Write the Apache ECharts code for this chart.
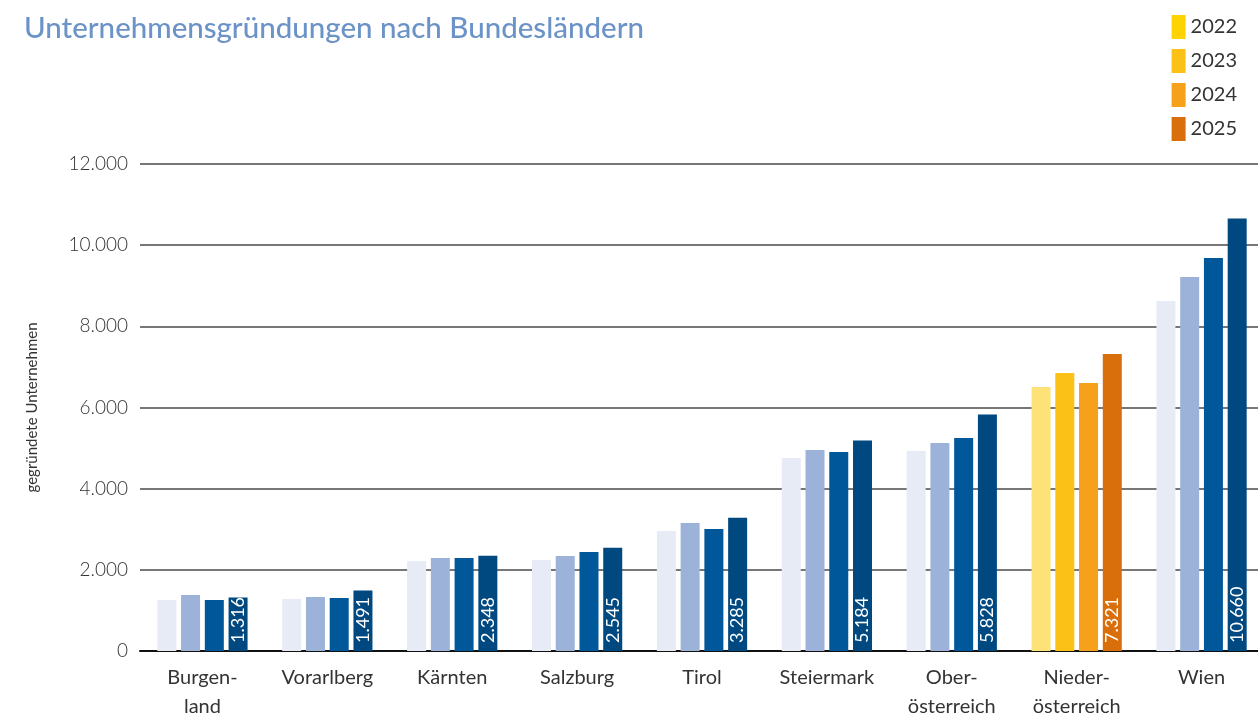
<!DOCTYPE html>
<html>
<head>
<meta charset="utf-8">
<script src="https://cdn.jsdelivr.net/npm/echarts@6/dist/echarts.min.js"></script>
<style>
	html, body { margin: 0; padding: 0; background: #fff; }
	#chart { width: 1258px; height: 714px; }
</style>
</head>
<body>
<div id="chart"></div>
<script>
const categories = ['Burgen-\nland', 'Vorarlberg', 'Kärnten', 'Salzburg', 'Tirol', 'Steiermark', 'Ober-\nösterreich', 'Nieder-\nösterreich', 'Wien']
const years = ['2022', '2023', '2024', '2025']

const values2022 = [1257, 1281, 2218, 2242, 2957, 4756, 4929, 6506, 8625]
const values2023 = [1380, 1331, 2292, 2341, 3154, 4953, 5126, 6851, 9216]
const values2024 = [1257, 1306, 2292, 2440, 3006, 4904, 5249, 6604, 9685]
const values2025 = [1316, 1491, 2348, 2545, 3285, 5184, 5828, 7321, 10660]

const yTicks = [0, 2000, 4000, 6000, 8000, 10000, 12000]

const blue = ['#e6ebf5', '#9db2d8', '#00589b', '#004880']
const yellow = ['#fde27a', '#fcc117', '#f5a11b', '#d96f0b']
const legendColor = ['#ffd300', '#fcc117', '#f5a11b', '#d96f0b']
const highlight = 7

const font = 'Lato, sans-serif'

const node = document.getElementById('chart')
const myChart = echarts.init(node)

const fmt = v => String(v).replace(/\B(?=(\d{3})+(?!\d))/g, '.')

const series = [values2022, values2023, values2024, values2025].map((vals, i) => ({
	name: years[i],
	type: 'bar',
	barWidth: 19,
	barGap: '25%',
	itemStyle: { color: legendColor[i] },
	data: vals.map((v, j) => ({
		value: v,
		itemStyle: { color: j === highlight ? yellow[i] : blue[i] }
	})),
	label: i === 3 ? {
		show: true,
		position: 'insideBottom',
		rotate: 90,
		align: 'left',
		verticalAlign: 'middle',
		distance: 8,
		color: '#fff',
		fontFamily: font,
		fontSize: 18,
		formatter: p => fmt(p.value)
	} : { show: false }
}))

const option = {
	animation: false,
	title: {
		text: 'Unternehmensgründungen nach Bundesländern',
		left: 19,
		top: 8,
		textStyle: {
			fontFamily: font,
			fontSize: 29.5,
			fontWeight: 500,
			color: '#6b93c7'
		}
	},
	legend: {
		orient: 'vertical',
		right: 16,
		top: 10,
		itemWidth: 14,
		itemHeight: 24,
		itemGap: 10,
		icon: 'rect',
		data: years.map((y, i) => ({ name: y, itemStyle: { color: legendColor[i] } })),
		textStyle: {
			fontFamily: font,
			fontSize: 20,
			color: '#333'
		}
	},
	grid: {
		left: 140,
		right: -6,
		top: 164,
		bottom: 63,
		outerBoundsMode: 'none',
		containLabel: false
	},
	xAxis: {
		type: 'category',
		data: categories,
		axisLine: { lineStyle: { color: '#111', width: 2 } },
		axisTick: { show: false },
		axisLabel: {
			fontFamily: font,
			fontSize: 20,
			color: '#333',
			margin: 12,
			lineHeight: 29
		}
	},
	yAxis: {
		type: 'value',
		min: yTicks[0],
		max: yTicks[yTicks.length - 1],
		interval: 2000,
		name: 'gegründete Unternehmen',
		nameLocation: 'middle',
		nameGap: 100,
		nameTextStyle: {
			fontFamily: font,
			fontSize: 15,
			color: '#333'
		},
		axisLabel: {
			fontFamily: font,
			fontSize: 19,
			fontWeight: 300,
			color: '#333',
			margin: 12,
			formatter: v => fmt(v)
		},
		splitLine: { lineStyle: { color: '#777', width: 2 } }
	},
	series: series
}

myChart.setOption(option)
</script>
</body>
</html>
